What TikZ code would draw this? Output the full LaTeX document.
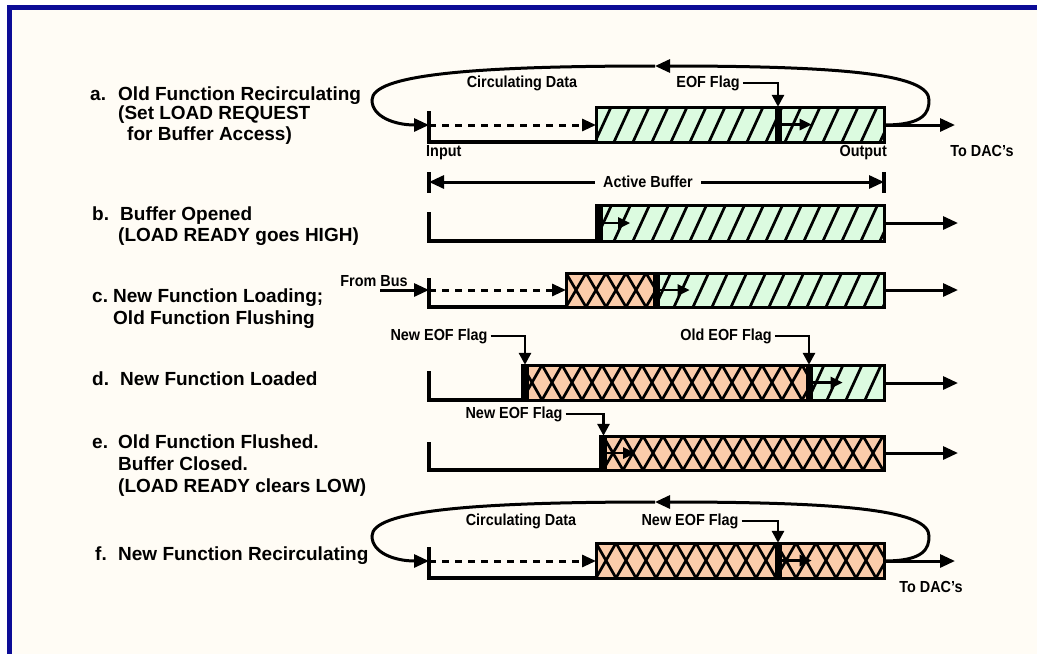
\documentclass[tikz,border=0pt]{standalone}
\usepackage{fontspec}
\setmainfont{Liberation Sans}
\newfontfamily\narrowsf[FakeStretch=0.9]{Liberation Sans}
\usetikzlibrary{arrows.meta}
\definecolor{cream}{RGB}{255,252,245}
\definecolor{navy}{RGB}{12,12,150}
\definecolor{mint}{RGB}{220,251,224}
\definecolor{peach}{RGB}{251,204,170}
\tikzset{
  lab/.style={anchor=base west,inner sep=0pt,font=\fontsize{19}{22}\selectfont\bfseries},
  sml/.style={inner sep=0pt,font=\narrowsf\fontsize{16}{18}\selectfont\bfseries},
  conn/.style={line width=3pt,-{Triangle[length=15pt,width=13pt]}},
  smallarr/.style={line width=2.6pt,-{Triangle[length=12pt,width=11pt]}},
  dasharr/.style={line width=3pt,dash pattern=on 7pt off 6pt,-{Triangle[length=14pt,width=12pt]}},
  leader/.style={line width=2.8pt,-{Triangle[length=12pt,width=12pt]}},
  boxline/.style={line width=3pt},
  stair/.style={line width=3.5pt,line join=miter},
  eofbar/.style={fill=black,draw=none,minimum width=7pt,inner sep=0pt,rectangle},
  hatchline/.style={line width=2.7pt}
}
\newcommand{\ghatch}[4]{%
  \fill[mint] (#1,#3) rectangle (#2,#4);
  \begin{scope}
    \clip (#1,#3) rectangle (#2,#4);
    \foreach \k in {0,...,18} \draw[hatchline] ({#1-20+\k*19},#4) -- ++(17,-37);
  \end{scope}}
\newcommand{\ohatch}[4]{%
  \fill[peach] (#1,#3) rectangle (#2,#4);
  \begin{scope}
    \clip (#1,#3) rectangle (#2,#4);
    \foreach \k in {0,...,17} {
      \draw[hatchline] ({#1+\k*20},#3) -- ({#1+\k*20+20},#4);
      \draw[hatchline] ({#1+\k*20+20},#3) -- ({#1+\k*20},#4);}
  \end{scope}}
\newcommand{\recirc}[3]{% out coord, in coord, mid y
  \draw[conn] (#1) .. controls (925,#3) and (929,#3-13) .. (929,#3-25)
     .. controls (929,#3-50) and (850,#3-59) .. (655,#3-59);
  \draw[conn] (655,#3-59) .. controls (470,#3-59) and (372,#3-50) .. (372,#3-25)
     .. controls (372,#3-8) and (395,#3) .. (#2);}
\begin{document}
\begin{tikzpicture}[x=1pt,y=-1pt]
\useasboundingbox (0,0) rectangle (1037,654);
\fill[white] (0,0) rectangle (1037,654);
\fill[cream] (7,5) rectangle (1037,654);
\fill[navy] (7,5) rectangle (1037,10);
\fill[navy] (7,5) rectangle (12,654);

% ---------- left labels
\node[lab] (la0) at (90,100) {a.};
\node[lab] (la1) at (118,100) {Old Function Recirculating};
\node[lab] (la2) at (118,119) {(Set LOAD REQUEST};
\node[lab] (la3) at (127,140) {for Buffer Access)};
\node[lab] (lb0) at (92,220) {b.};
\node[lab] (lb1) at (120,220) {Buffer Opened};
\node[lab] (lb2) at (118,241) {(LOAD READY goes HIGH)};
\node[lab] (lc0) at (92,302) {c.};
\node[lab] (lc1) at (113,302) {New Function Loading;};
\node[lab] (lc2) at (113,324) {Old Function Flushing};
\node[lab] (ld0) at (92,385) {d.};
\node[lab] (ld1) at (120,385) {New Function Loaded};
\node[lab] (le0) at (92,448) {e.};
\node[lab] (le1) at (118,448) {Old Function Flushed.};
\node[lab] (le2) at (118,470) {Buffer Closed.};
\node[lab] (le3) at (118,492) {(LOAD READY clears LOW)};
\node[lab] (lf0) at (95,560) {f.};
\node[lab] (lf1) at (118,560) {New Function Recirculating};

% ---------- row a
\ghatch{596}{884}{107}{142}
\draw[boxline] (596,107) rectangle (884,142);
\node[eofbar,minimum height=35pt] (barA) at (778,124.5) {};
\draw[smallarr] (barA.east) -- ++(30,0);
\draw[stair] (429,111) -- (429,142) -- (596,142);
\coordinate (inA) at (429,125);
\coordinate (boxA) at (596,125);
\coordinate (outA) at (884,125);
\coordinate (dacA) at (955,125);
\draw[dasharr] (inA) -- (boxA);
\draw[conn] (outA) -- (dacA);
\recirc{outA}{inA}{125}
\node[sml] (circA) at (522,83) {Circulating Data};
\node[sml] (eofA) at (708,83) {EOF Flag};
\draw[leader] (eofA.east) ++(3,0) -| (barA.north);
\node[sml,anchor=west] (inputA) at (426,153) {Input};
\node[sml,anchor=east] (outputA) at (887,153) {Output};
\node[sml] (todacA) at (982,151) {To DAC’s};

% ---------- active buffer
\coordinate (abL) at (429,182);
\coordinate (abR) at (884,182);
\draw[stair] (429,172) -- (429,193);
\draw[stair] (884,172) -- (884,193);
\draw[line width=3pt,{Triangle[length=15pt,width=13pt]}-{Triangle[length=15pt,width=13pt]}] (abL) -- (abR);
\node[sml,fill=cream,inner xsep=8pt,inner ysep=2pt] (ab) at (648,182) {Active Buffer};

% ---------- row b
\ghatch{596}{884}{205}{241}
\draw[boxline] (596,205) rectangle (884,241);
\node[eofbar,minimum height=36pt] (barB) at (599.5,223) {};
\draw[smallarr] (barB.east) -- ++(27,0);
\draw[stair] (429,212) -- (429,241) -- (596,241);
\coordinate (outB) at (884,223);
\coordinate (dacB) at (958,223);
\draw[conn] (outB) -- (dacB);

% ---------- row c
\ohatch{566}{656}{273}{307}
\ghatch{656}{884}{273}{307}
\draw[boxline] (566,273) rectangle (884,307);
\node[eofbar,minimum height=34pt] (barC) at (656,290) {};
\draw[smallarr] (barC.east) -- ++(30,0);
\draw[stair] (429,278) -- (429,307) -- (566,307);
\coordinate (inC) at (429,290);
\coordinate (boxC) at (566,290);
\coordinate (outC) at (884,290);
\coordinate (dacC) at (958,290);
\coordinate (busC) at (380,290);
\draw[dasharr] (inC) -- (boxC);
\draw[conn] (outC) -- (dacC);
\draw[conn] (busC) -- (inC);
\node[sml] (frombus) at (374,281) {From Bus};

% ---------- row d
\ohatch{522}{809}{365}{400}
\ghatch{809}{884}{365}{400}
\draw[boxline] (522,365) rectangle (884,400);
\node[eofbar,minimum height=35pt] (barD1) at (525,382.5) {};
\node[eofbar,minimum height=35pt] (barD2) at (809,382.5) {};
\draw[smallarr] (barD2.east) -- ++(30,0);
\draw[stair] (429,371) -- (429,400) -- (522,400);
\coordinate (outD) at (884,383);
\coordinate (dacD) at (958,383);
\draw[conn] (outD) -- (dacD);
\node[sml] (neweofD) at (439,336) {New EOF Flag};
\node[sml] (oldeofD) at (726,336) {Old EOF Flag};
\draw[leader] (neweofD.east) ++(3,0) -| (barD1.north);
\draw[leader] (oldeofD.east) ++(3,0) -| (barD2.north);

% ---------- row e
\ohatch{603}{884}{436}{470}
\draw[boxline] (600,436) rectangle (884,470);
\node[eofbar,minimum height=34pt] (barE) at (603.5,453) {};
\draw[smallarr] (barE.east) -- ++(28,0);
\draw[stair] (429,442) -- (429,470) -- (600,470);
\coordinate (outE) at (884,453);
\coordinate (dacE) at (958,453);
\draw[conn] (outE) -- (dacE);
\node[sml] (neweofE) at (514,414) {New EOF Flag};
\draw[leader] (neweofE.east) ++(3,0) -| (barE.north);

% ---------- row f
\ohatch{596}{884}{543}{578}
\draw[boxline] (596,543) rectangle (884,578);
\node[eofbar,minimum height=35pt] (barF) at (778,560.5) {};
\draw[smallarr] (barF.east) -- ++(30,0);
\draw[stair] (429,547) -- (429,578) -- (596,578);
\coordinate (inF) at (429,561);
\coordinate (boxF) at (596,561);
\coordinate (outF) at (884,561);
\coordinate (dacF) at (955,561);
\draw[dasharr] (inF) -- (boxF);
\draw[conn] (outF) -- (dacF);
\recirc{outF}{inF}{561}
\node[sml] (circF) at (521,521) {Circulating Data};
\node[sml] (eofF) at (690,521) {New EOF Flag};
\draw[leader] (eofF.east) ++(3,0) -| (barF.north);
\node[sml] (todacF) at (931,587) {To DAC’s};
\end{tikzpicture}
\end{document}
